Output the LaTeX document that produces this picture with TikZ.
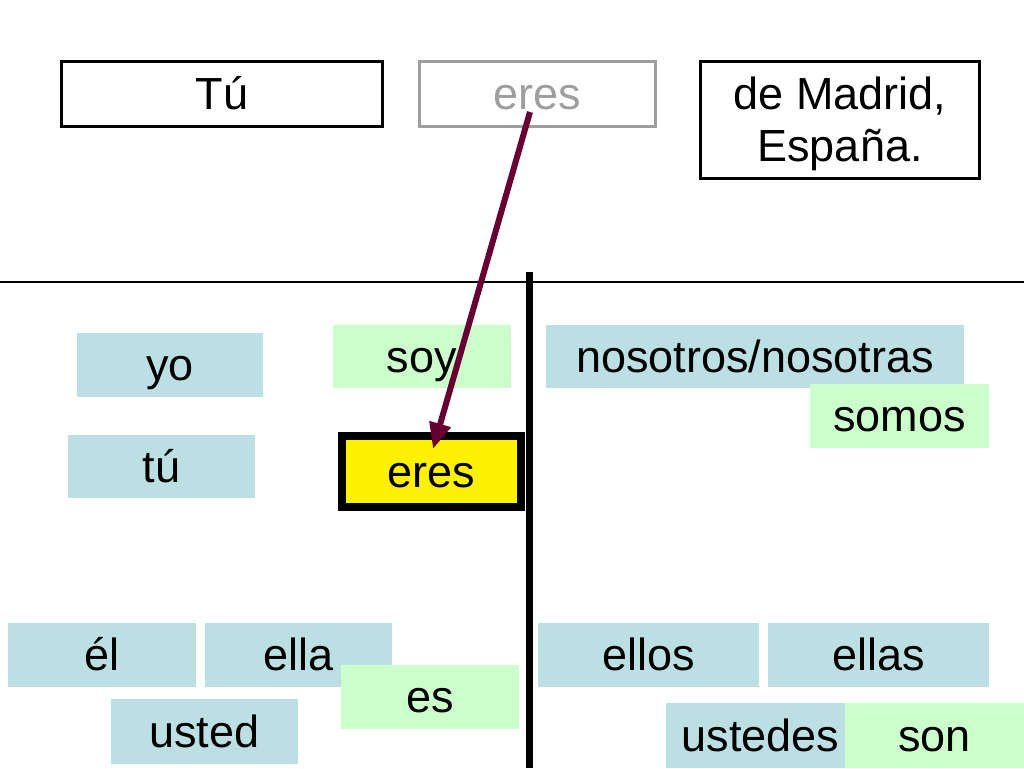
\documentclass[tikz,border=0pt]{standalone}
\usepackage{fontspec}
\setmainfont{Liberation Sans}
\usetikzlibrary{arrows.meta}
\definecolor{pblue}{RGB}{187,223,227}
\definecolor{pgreen}{RGB}{204,255,204}
\definecolor{pgray}{RGB}{158,158,158}
\definecolor{maroon}{RGB}{102,0,51}
\tikzset{
  cell/.style={rectangle, inner sep=0pt, font=\fontsize{45}{52}\selectfont,
    text height=40.7pt, text depth=9.5pt, align=center},
  bluecell/.style={cell, fill=pblue},
  greencell/.style={cell, fill=pgreen},
  topbox/.style={rectangle, inner sep=0pt, draw=black, line width=3pt,
    font=\fontsize{45}{52}\selectfont, align=center},
}
\begin{document}
\begin{tikzpicture}[x=1pt,y=-1pt]
\useasboundingbox (0,0) rectangle (1024,768);
% top sentence
\node[topbox, text height=40.7pt, text depth=9.5pt, minimum width=321pt, minimum height=65pt] (tu) at (222,94) {Tú};
\node[topbox, draw=pgray, text=pgray, text height=40.7pt, text depth=9.5pt, minimum width=236pt, minimum height=65pt] (erestop) at (537.5,94) {eres};
\node[topbox, minimum width=279pt, minimum height=117pt] (madrid) at (840,120) {\rule{0pt}{40.7pt}de Madrid,\\España.\rule[-9.5pt]{0pt}{9.5pt}};
% divider lines
\coordinate (hl) at (0,282);
\coordinate (hr) at (1024,282);
\draw[line width=1.5pt] (hl) -- (hr);
% left column
\node[bluecell, minimum width=186pt, minimum height=64pt] (yo) at (170,365) {yo};
\node[bluecell, minimum width=187pt, minimum height=63pt] (tuu) at (161.5,466.5) {tú};
\node[greencell, minimum width=178pt, minimum height=63pt] (soy) at (422,356.5) {soy};
\node[cell, fill=yellow, draw=black, line width=8pt, minimum width=179pt, minimum height=71pt] (eres) at (431.5,471.5) {eres};
\node[bluecell, minimum width=188pt, minimum height=64pt] (el) at (102,655) {él};
\node[bluecell, minimum width=187pt, minimum height=64pt] (ella) at (298.5,655) {ella};
\node[greencell, minimum width=178pt, minimum height=64pt] (es) at (430,697) {es};
\node[bluecell, minimum width=187pt, minimum height=65pt] (usted) at (204.5,731.5) {usted};
% right column
\node[bluecell, minimum width=418pt, minimum height=63pt] (nos) at (755,356.5) {nosotros/nosotras};
\node[greencell, minimum width=179pt, minimum height=64pt] (somos) at (899.5,416) {somos};
\node[bluecell, minimum width=221pt, minimum height=64pt] (ellos) at (648.5,655) {ellos};
\node[bluecell, minimum width=221pt, minimum height=64pt] (ellas) at (878.5,655) {ellas};
\node[bluecell, minimum width=189pt, minimum height=65pt] (ustedes) at (760.5,735.5) {ustedes};
\node[greencell, minimum width=179pt, minimum height=65pt] (son) at (934.5,735.5) {son};
% vertical divider
\coordinate (vt) at (529.5,272);
\coordinate (vb) at (529.5,768);
\draw[line width=7pt] (vt) -- (vb);
% arrow
\coordinate (as) at (530,112);
\coordinate (ae) at (433,449);
\draw[maroon, line width=6pt, -{Triangle[length=26pt,width=21pt]}] (as) -- (ae);
\end{tikzpicture}
\end{document}
